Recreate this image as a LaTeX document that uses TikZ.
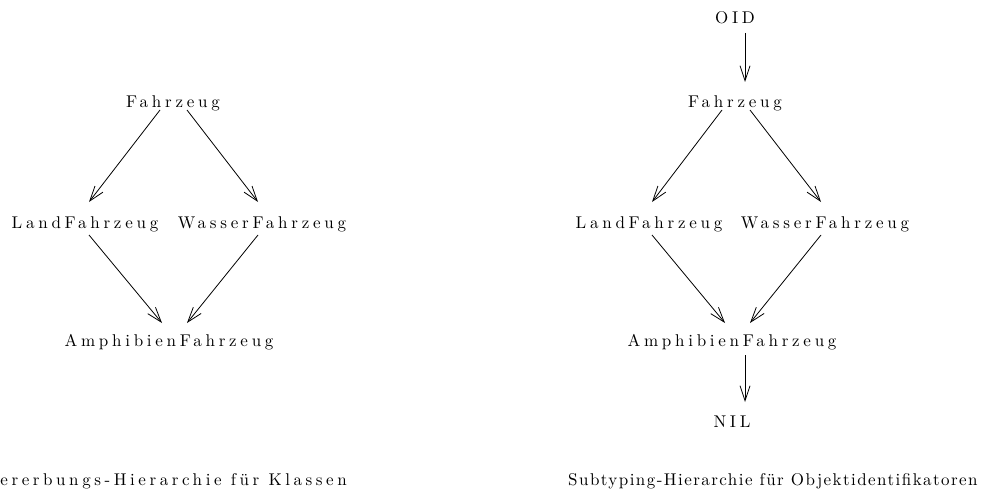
\documentclass[tikz,border=0pt]{standalone}
\usepackage{fontspec}
\setmainfont{lmroman10-regular}[Extension=.otf]
\newfontfamily\labfont{lmroman10-regular}[Extension=.otf,LetterSpace=22]
\newfontfamily\capfont{lmroman10-regular}[Extension=.otf,LetterSpace=8.5]
\newfontfamily\capwfont{lmroman10-regular}[Extension=.otf,LetterSpace=21]
\usetikzlibrary{arrows.meta}
\begin{document}
\begin{tikzpicture}[x=1pt,y=1pt,
  lab/.style={inner sep=0pt,anchor=base,font=\labfont\fontsize{17}{20}\selectfont},
  capt/.style={inner sep=0pt,font=\capfont\fontsize{17}{20}\selectfont},
  captw/.style={inner sep=0pt,font=\capwfont\fontsize{17}{20}\selectfont},
  arr/.style={draw,line width=0.8pt,-{Straight Barb[length=15pt,width=10pt]}}]
\useasboundingbox (0,0) rectangle (984,-500);
% left hierarchy
\node[lab] (f)    at (173,-107) {Fahrzeug};
\node[lab] (land) at (85,-228)  {LandFahrzeug};
\node[lab] (wass) at (262,-228) {WasserFahrzeug};
\node[lab] (amph) at (169,-346) {AmphibienFahrzeug};
\draw[arr] ([xshift=-13pt,yshift=-3pt]f.base) -- ([xshift=4pt,yshift=26pt]land.base);
\draw[arr] ([xshift=14pt,yshift=-3pt]f.base) -- ([xshift=-4pt,yshift=26pt]wass.base);
\draw[arr] ([xshift=4pt,yshift=-7pt]land.base) -- ([xshift=-7pt,yshift=23pt]amph.base);
\draw[arr] ([xshift=-4pt,yshift=-7pt]wass.base) -- ([xshift=18pt,yshift=23pt]amph.base);
% right hierarchy
\node[lab] (oid)   at (735,-24)  {OID};
\node[lab] (f2)    at (735,-107) {Fahrzeug};
\node[lab] (land2) at (649,-228) {LandFahrzeug};
\node[lab] (wass2) at (825,-228) {WasserFahrzeug};
\node[lab] (amph2) at (732,-346) {AmphibienFahrzeug};
\node[lab] (nil)   at (732,-427) {NIL};
\draw[arr] ([xshift=10pt,yshift=-9pt]oid.base) -- ([xshift=10pt,yshift=25pt]f2.base);
\draw[arr] ([xshift=-13pt,yshift=-3pt]f2.base) -- ([xshift=3pt,yshift=26pt]land2.base);
\draw[arr] ([xshift=15pt,yshift=-3pt]f2.base) -- ([xshift=-4pt,yshift=26pt]wass2.base);
\draw[arr] ([xshift=3pt,yshift=-7pt]land2.base) -- ([xshift=-7pt,yshift=23pt]amph2.base);
\draw[arr] ([xshift=-4pt,yshift=-7pt]wass2.base) -- ([xshift=18pt,yshift=23pt]amph2.base);
\draw[arr] ([xshift=13pt,yshift=-9pt]amph2.base) -- ([xshift=13pt,yshift=25pt]nil.base);
% captions
\node[captw,anchor=base east] (c1) at (347,-485) {Vererbungs-Hierarchie für Klassen};
\node[capt,anchor=base west] (c2) at (568,-485) {Subtyping-Hierarchie für Objektidentifikatoren};
\end{tikzpicture}
\end{document}
